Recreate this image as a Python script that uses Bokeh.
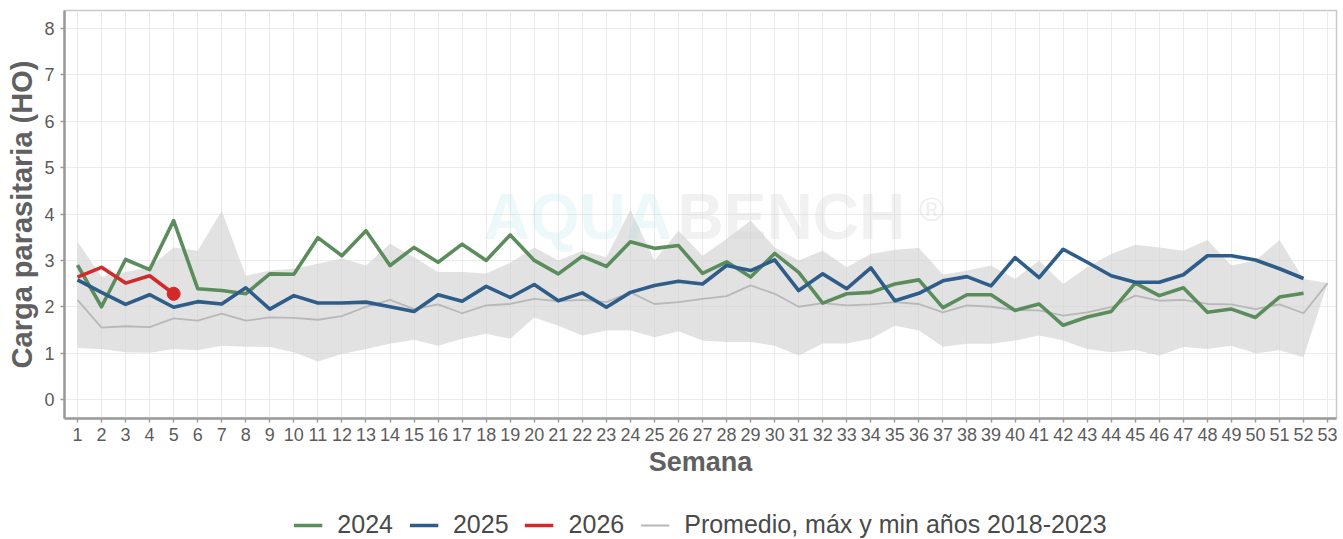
from bokeh.plotting import figure
from bokeh.models import (FixedTicker, Legend, LegendItem, Label, Range1d)
from bokeh.layouts import column
from bokeh.embed import file_html
from bokeh.resources import INLINE

weeks = list(range(1, 54))
band_max = [3.40, 2.65, 2.75, 2.85, 3.28, 3.21, 4.07, 2.67, 2.78, 2.82, 2.93, 3.04, 2.89, 3.36, 3.07,
            2.75, 2.75, 2.72, 2.95, 3.28, 3.00, 3.21, 3.07, 4.09, 3.00, 3.64, 3.10, 3.46, 3.86, 3.28,
            3.00, 3.21, 2.85, 3.14, 3.23, 3.27, 2.69, 2.78, 2.89, 2.60, 3.00, 2.49, 2.85, 3.14, 3.34,
            3.28, 3.21, 3.44, 2.89, 3.00, 3.44, 2.60, 2.51]
band_min = [1.11, 1.09, 1.02, 1.01, 1.09, 1.06, 1.16, 1.14, 1.13, 1.02, 0.82, 0.98, 1.09, 1.20, 1.29,
            1.16, 1.31, 1.42, 1.31, 1.77, 1.59, 1.38, 1.49, 1.49, 1.34, 1.47, 1.27, 1.24, 1.24, 1.16,
            0.95, 1.21, 1.21, 1.31, 1.59, 1.49, 1.14, 1.20, 1.20, 1.27, 1.38, 1.27, 1.09, 1.02, 1.07,
            0.95, 1.13, 1.09, 1.16, 1.00, 1.06, 0.91, 2.51]
mean_hist = [2.15, 1.55, 1.58, 1.56, 1.75, 1.70, 1.85, 1.70, 1.77, 1.76, 1.72, 1.80, 2.00, 2.15, 1.95,
             2.05, 1.86, 2.03, 2.06, 2.17, 2.12, 2.15, 2.10, 2.31, 2.06, 2.10, 2.17, 2.23, 2.46, 2.28,
             2.00, 2.08, 2.03, 2.05, 2.10, 2.06, 1.88, 2.03, 2.00, 1.93, 1.92, 1.81, 1.88, 1.99, 2.24,
             2.13, 2.15, 2.06, 2.05, 1.95, 2.05, 1.86, 2.51]
y2024 = [2.90, 2.00, 3.02, 2.80, 3.86, 2.39, 2.35, 2.28, 2.71, 2.70, 3.49, 3.10, 3.64, 2.89, 3.28,
         2.96, 3.35, 3.00, 3.55, 3.00, 2.71, 3.09, 2.87, 3.40, 3.26, 3.32, 2.72, 2.97, 2.64, 3.15,
         2.74, 2.08, 2.28, 2.31, 2.49, 2.58, 1.98, 2.26, 2.26, 1.92, 2.06, 1.60, 1.78, 1.90, 2.51,
         2.24, 2.41, 1.88, 1.95, 1.77, 2.21, 2.29]
y2025 = [2.58, 2.31, 2.05, 2.26, 1.99, 2.11, 2.06, 2.41, 1.95, 2.24, 2.08, 2.08, 2.10, 2.00, 1.90,
         2.26, 2.12, 2.44, 2.20, 2.48, 2.13, 2.30, 1.99, 2.31, 2.46, 2.55, 2.49, 2.89, 2.78, 3.01,
         2.35, 2.71, 2.39, 2.84, 2.13, 2.29, 2.56, 2.65, 2.45, 3.06, 2.63, 3.24, 2.96, 2.67, 2.53,
         2.53, 2.69, 3.10, 3.10, 3.01, 2.82, 2.61]
y2026 = [2.64, 2.85, 2.51, 2.67, 2.28]
y_ticks = list(range(0, 9))
labels = ["2024", "2025", "2026", "Promedio, máx y min años 2018-2023"]

FONT = "Liberation Sans"
C24, C25, C26, CGR = "#5b8c5c", "#2e5d89", "#d3292b", "#b8b8b8"

p = figure(width=1343, height=483, output_backend="svg", toolbar_location=None,
           x_range=Range1d(0.46, 53.37), y_range=Range1d(-0.41, 8.39),
           min_border_left=64, min_border_right=7, min_border_top=10, min_border_bottom=65)
p.background_fill_color = "white"
p.border_fill_color = "white"
p.outline_line_color = "#c8c8c8"
p.outline_line_width = 1.5

p.xaxis.ticker = FixedTicker(ticks=weeks)
p.yaxis.ticker = FixedTicker(ticks=y_ticks)
for ax in (p.xaxis, p.yaxis):
    ax.axis_line_color = "#9a9a9a"
    ax.axis_line_width = 2.5
    ax.major_tick_line_color = "#9a9a9a"
    ax.major_tick_line_width = 1.5
    ax.major_tick_out = 4
    ax.major_tick_in = 0
    ax.minor_tick_line_color = None
    ax.major_label_text_font = FONT
    ax.major_label_text_font_size = "18px"
    ax.major_label_text_color = "#5c5c5c"
    ax.axis_label_text_font = FONT
    ax.axis_label_text_font_style = "bold"
    ax.axis_label_text_color = "#606060"
p.xaxis.axis_label_text_font_size = "27px"
p.yaxis.axis_label_text_font_size = "29px"
p.xaxis.axis_label = "Semana"
p.yaxis.axis_label = "Carga parasitaria (HO)"
p.xaxis.major_label_standoff = 5
p.xaxis.axis_label_standoff = 3
p.yaxis.major_label_standoff = 6
p.yaxis.axis_label_standoff = 3

p.xgrid.ticker = FixedTicker(ticks=weeks)
p.ygrid.ticker = FixedTicker(ticks=y_ticks)
p.grid.grid_line_color = "#ebebeb"
p.grid.grid_line_width = 1

p.varea(x=weeks, y1=band_min, y2=band_max, fill_color="#d2d2d2", fill_alpha=0.65)
p.line(weeks, mean_hist, line_color=CGR, line_width=1.8)

# watermark
p.add_layout(Label(x=17.89, y=3.17, text="AQUA", text_font=FONT, text_font_size="64px",
                   text_font_style="bold", text_color="#a6dde9", text_alpha=0.2))
p.add_layout(Label(x=25.96, y=3.17, text="BENCH", text_font=FONT, text_font_size="64px",
                   text_font_style="bold", text_color="#d0d0d0", text_alpha=0.3))
p.add_layout(Label(x=36.0, y=3.69, text="®", text_font=FONT, text_font_size="34px",
                   text_color="#d0d0d0", text_alpha=0.35))

p.line(weeks[:len(y2024)], y2024, line_color=C24, line_width=3.6, line_join="round")
p.line(weeks[:len(y2025)], y2025, line_color=C25, line_width=3.6, line_join="round")
p.line(weeks[:len(y2026)], y2026, line_color=C26, line_width=3.6, line_join="round")
p.scatter(x=[weeks[len(y2026) - 1]], y=[y2026[-1]], size=13, marker="circle",
          fill_color=C26, line_color=C26)

# legend strip below the plot (its series lie outside its ranges, only the legend shows)
lf = figure(width=1343, height=56, output_backend="svg", toolbar_location=None,
            x_range=Range1d(100, 101), y_range=Range1d(100, 101),
            min_border_left=64, min_border_right=7, min_border_top=0, min_border_bottom=0)
lf.axis.visible = False
lf.grid.visible = False
lf.outline_line_color = None
lf.background_fill_color = "white"
lf.border_fill_color = "white"
series = [(weeks[:len(y2024)], y2024, C24, 3.6), (weeks[:len(y2025)], y2025, C25, 3.6),
          (weeks[:len(y2026)], y2026, C26, 3.6), (weeks, mean_hist, CGR, 1.8)]
items = []
for lab, (xs, ys, col, lw) in zip(labels, series):
    r = lf.line(xs, ys, line_color=col, line_width=lw)
    items.append(LegendItem(label=lab, renderers=[r]))
legend = Legend(items=items, orientation="horizontal", location="bottom_center",
                label_text_font=FONT, label_text_font_size="25px", label_text_color="#4a4a4a",
                glyph_width=29, glyph_height=20, label_standoff=15, spacing=16,
                padding=0, margin=0, border_line_alpha=0, background_fill_alpha=0)
lf.add_layout(legend)

layout = column(p, lf, spacing=0)
open("out.html", "w").write(file_html(layout, INLINE))
